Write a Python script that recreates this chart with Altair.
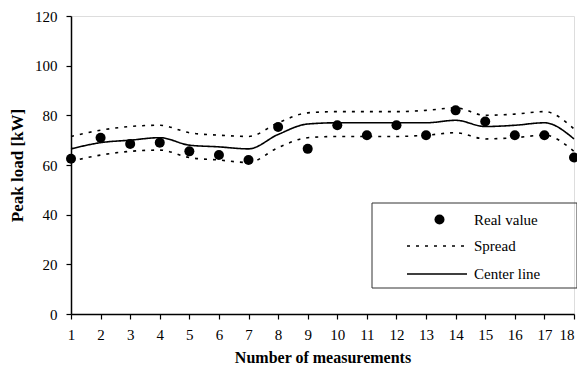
import altair as alt
import pandas as pd

measurements = list(range(1, 19))
real_value = [62.5, 71, 68.5, 69, 65.5, 64, 62, 75.3, 66.5, 76, 72, 76, 72, 82, 77.5, 72, 72, 63]
center_line = [66.5, 69, 70, 71, 68, 67.3, 66.5, 72.3, 76.5, 77, 77, 77, 77, 78, 75.5, 76, 77, 70.5]
upper_spread = [71.5, 74, 75.5, 76, 73, 72, 71.5, 77, 81, 81.5, 81.5, 81.5, 82, 83, 80, 80.5, 81.5, 74.5]
lower_spread = [61.5, 64, 65.5, 66, 63, 62, 61, 67, 71, 71.5, 71.5, 71.5, 72, 73, 70.5, 71, 72, 65.5]

pts = pd.DataFrame({"n": measurements, "v": real_value, "series": "Real value"})
lines = pd.concat([
    pd.DataFrame({"n": measurements, "v": upper_spread, "series": "Spread", "grp": "upper"}),
    pd.DataFrame({"n": measurements, "v": lower_spread, "series": "Spread", "grp": "lower"}),
    pd.DataFrame({"n": measurements, "v": center_line, "series": "Center line", "grp": "center"}),
])

FONT = "Liberation Serif"

x_enc = alt.X("n:Q", scale=alt.Scale(domain=[1, 18], nice=False, zero=False),
              axis=alt.Axis(title="Number of measurements", values=measurements, format="d",
                            grid=False, tickSize=5, labelPadding=8, titlePadding=7,
                            labelFontSize=15, titleFontSize=16, labelFont=FONT, titleFont=FONT,
                            titleFontWeight="bold", labelColor="black", titleColor="black",
                            domainColor="black", tickColor="black", domainWidth=1.5, tickWidth=1.2,
                            labelFlush=False,
                            labelAlign=alt.condition("datum.value == 18", alt.value("right"), alt.value("center"))))
y_enc = alt.Y("v:Q", scale=alt.Scale(domain=[0, 120], nice=False),
              axis=alt.Axis(title="Peak load [kW]", values=[0, 20, 40, 60, 80, 100, 120],
                            grid=False, tickSize=5, labelPadding=9, titlePadding=8,
                            labelFontSize=15, titleFontSize=17, labelFont=FONT, titleFont=FONT,
                            titleFontWeight="bold", labelColor="black", titleColor="black",
                            domainColor="black", tickColor="black", domainWidth=1.5, tickWidth=1.2))

line_layer = alt.Chart(lines).mark_line(interpolate="monotone", color="black", strokeWidth=1.6).encode(
    x=x_enc, y=y_enc, detail="grp:N",
    strokeDash=alt.StrokeDash("series:N",
        scale=alt.Scale(domain=["Spread", "Center line"], range=[[3, 6], [1, 0]]),
        legend=alt.Legend(title=None, orient="none", legendX=355, legendY=219,
                          symbolType="M-3,0H3", symbolSize=400, symbolStrokeWidth=1.6,
                          symbolStrokeColor="black", labelFont=FONT, labelFontSize=15,
                          labelColor="black", labelOffset=26, rowPadding=9, padding=0)),
)

point_layer = alt.Chart(pts).mark_point(filled=True, color="black", size=100, opacity=1).encode(
    x=x_enc, y=y_enc,
    shape=alt.Shape("series:N", scale=alt.Scale(domain=["Real value"], range=["circle"]),
                    legend=alt.Legend(title=None, orient="none", legendX=361, legendY=196,
                                      symbolSize=100, symbolFillColor="black", symbolStrokeColor="black",
                                      symbolOpacity=1, labelFont=FONT, labelFontSize=15,
                                      labelColor="black", labelOffset=27, padding=0)),
)

box = alt.Chart(pd.DataFrame({"a": [0]})).mark_rect(fill=None, stroke="#333", strokeWidth=1).encode(
    x=alt.value(301), x2=alt.value(506), y=alt.value(187), y2=alt.value(272)
)

chart = alt.layer(line_layer, point_layer, box).resolve_legend(
    shape="independent", strokeDash="independent"
).properties(
    width=503, height=298,
    autosize=alt.AutoSizeParams(type="none"),
    padding={"left": 63, "top": 8, "right": 3, "bottom": 57},
).configure_view(stroke=None).configure(background="white")

chart.save("out.html", embed_options={"renderer": "svg", "actions": False})
